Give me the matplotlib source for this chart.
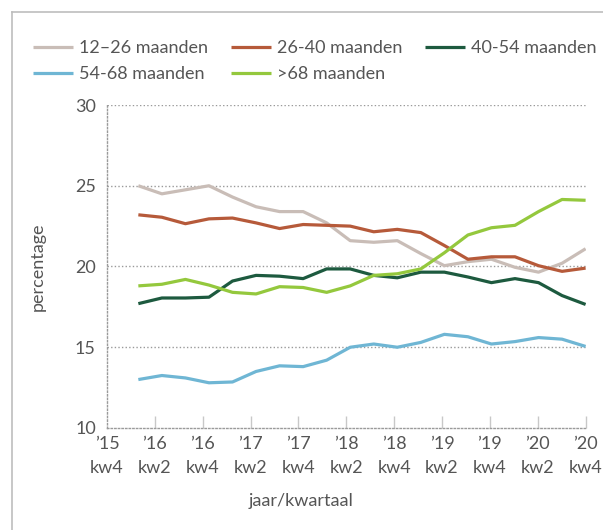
import matplotlib
matplotlib.use("Agg")
import matplotlib.pyplot as plt
import numpy as np
from matplotlib.lines import Line2D

plt.rcParams['font.family'] = ['Lato', 'DejaVu Sans']

tick_labels = ["’15\nkw4", "’16\nkw2", "’16\nkw4", "’17\nkw2", "’17\nkw4", "’18\nkw2",
               "’18\nkw4", "’19\nkw2", "’19\nkw4", "’20\nkw2", "’20\nkw4"]

s_12_26 = [25.0, 24.5, 24.75, 25.0, 24.3, 23.7, 23.4, 23.4, 22.7, 21.6,
           21.5, 21.6, 20.8, 20.05, 20.3, 20.45, 19.95, 19.65, 20.2, 21.1]
s_26_40 = [23.2, 23.05, 22.65, 22.95, 23.0, 22.7, 22.35, 22.6, 22.55, 22.5,
           22.15, 22.3, 22.1, 21.3, 20.45, 20.6, 20.6, 20.05, 19.7, 19.9]
s_40_54 = [17.7, 18.05, 18.05, 18.1, 19.1, 19.45, 19.4, 19.25, 19.85, 19.85,
           19.45, 19.3, 19.65, 19.65, 19.35, 19.0, 19.25, 19.0, 18.2, 17.65]
s_54_68 = [13.0, 13.25, 13.1, 12.8, 12.85, 13.5, 13.85, 13.8, 14.2, 15.0,
           15.2, 15.0, 15.3, 15.8, 15.65, 15.2, 15.35, 15.6, 15.5, 15.05]
s_68 = [18.8, 18.9, 19.2, 18.85, 18.4, 18.3, 18.75, 18.7, 18.4, 18.8,
        19.45, 19.55, 19.85, 20.85, 21.95, 22.4, 22.55, 23.4, 24.15, 24.1]

series = [
    ("12–26 maanden", s_12_26, "#c9bdb7"),
    ("26-40 maanden", s_26_40, "#b65a3a"),
    ("40-54 maanden", s_40_54, "#1d5a3f"),
    ("54-68 maanden", s_54_68, "#6fb6d4"),
    (">68 maanden", s_68, "#94c83d"),
]

txt = "#555555"
grid_c = "#9a9a9a"
fs = 13

fig = plt.figure(figsize=(6.03, 5.30), dpi=100)
ax = fig.add_axes([107/603, 1-428/530, (585.6-107)/603, (428-105)/530])

n = len(s_12_26)
xs = np.linspace(1.31, 20.0, n)
handles = {}
for name, vals, col in series:
    h, = ax.plot(xs, vals, color=col, lw=2.3, solid_capstyle='butt', label=name)
    handles[name] = h

ax.set_xlim(0, 20)
ax.set_ylim(10, 30)
ax.set_yticks([10, 15, 20, 25, 30])
ax.set_xticks(np.arange(0, 21, 2))
ax.set_xticklabels(tick_labels, linespacing=1.6)

for y in [15, 20, 25, 30]:
    ax.axhline(y, color=grid_c, lw=1, ls=(0, (1, 1.6)), zorder=0)

for s in ['top', 'right']:
    ax.spines[s].set_visible(False)
for s in ['left', 'bottom']:
    ax.spines[s].set_color(grid_c)
    ax.spines[s].set_linestyle((0, (1, 1.6)))
    ax.spines[s].set_linewidth(1)

ax.tick_params(axis='y', length=0, pad=8, labelsize=fs, labelcolor=txt)
ax.tick_params(axis='x', direction='in', length=9, width=1, color="#c8c8c8",
               pad=6, labelsize=fs, labelcolor=txt)
ax.xaxis.get_major_ticks()[0].tick1line.set_visible(False)

ax.set_ylabel("percentage", fontsize=fs, color=txt)
ax.yaxis.set_label_coords(-0.128, 0.5)
ax.set_xlabel("jaar/kwartaal", fontsize=fs, color=txt)
ax.xaxis.set_label_coords(0.405, -0.2)

order = ["12–26 maanden", "54-68 maanden", "26-40 maanden", ">68 maanden", "40-54 maanden"]
leg = fig.legend([handles[k] for k in order], order, loc='upper left',
                 bbox_to_anchor=(26/603, 1-33/530), ncol=3, frameon=False,
                 fontsize=fs, handlelength=2.2, handletextpad=0.35,
                 columnspacing=1.25, labelspacing=0.55, borderaxespad=0)
for t in leg.get_texts():
    t.set_color(txt)

fig.add_artist(Line2D([12/603, 12/603], [0, 1-12/530], color="#bdbdbd", lw=1.2,
                      transform=fig.transFigure))
fig.add_artist(Line2D([12/603, 1], [1-12/530, 1-12/530], color="#bdbdbd", lw=1.2,
                      transform=fig.transFigure))

fig.savefig("out.png", dpi=100, facecolor="white")
